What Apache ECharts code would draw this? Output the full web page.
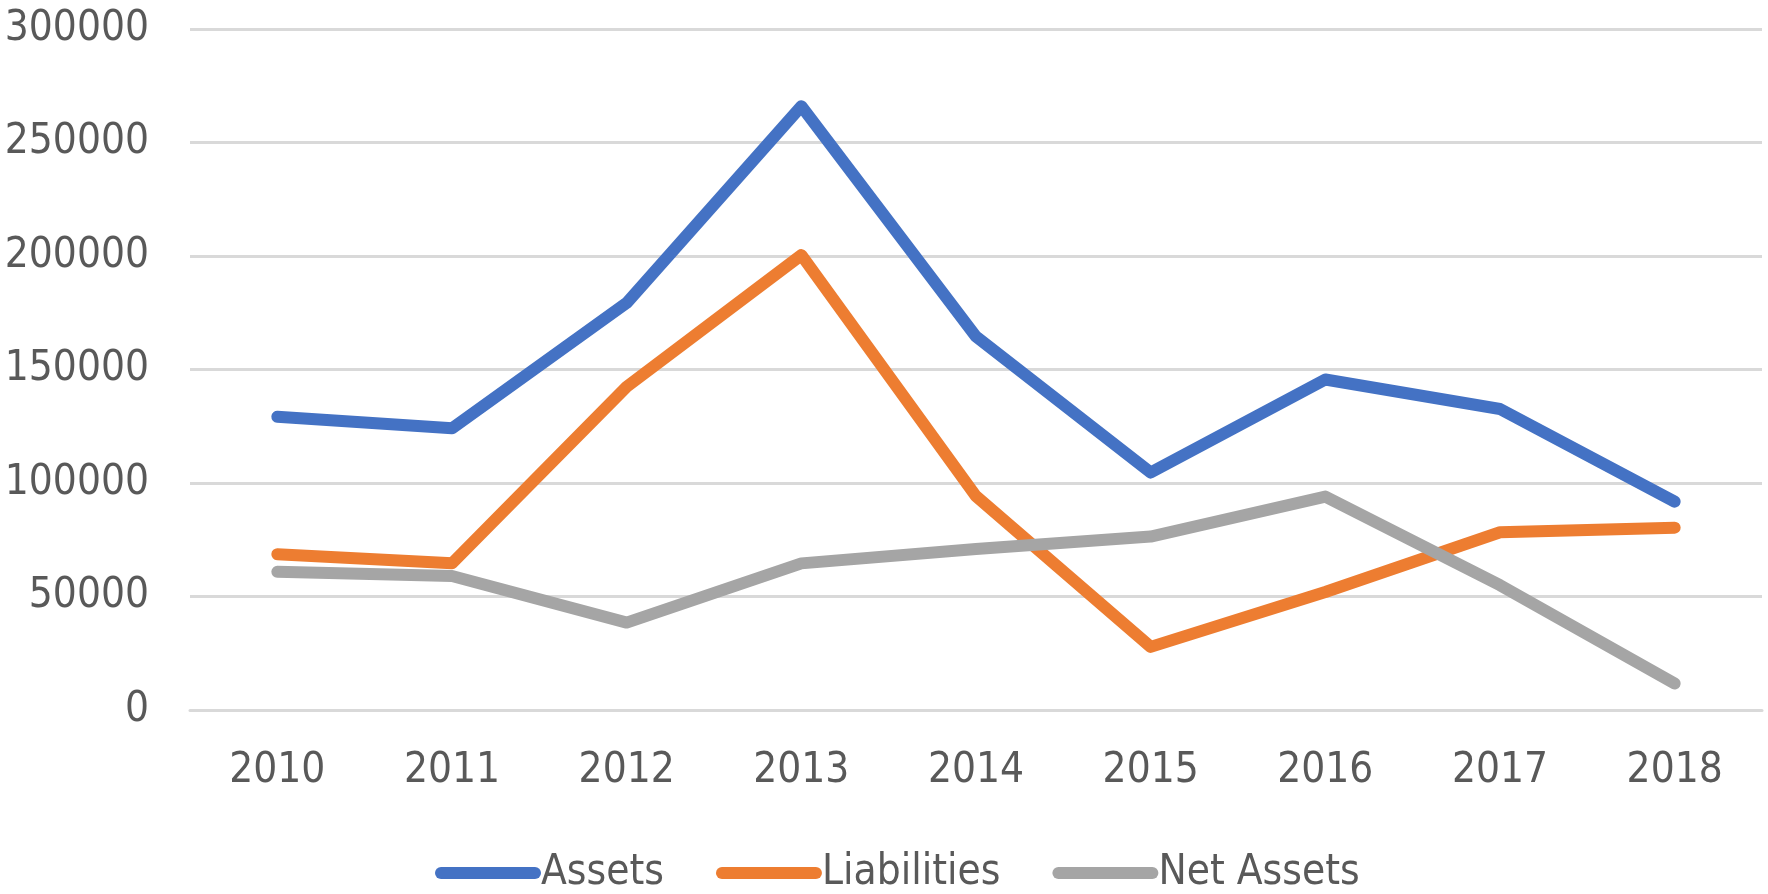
<!DOCTYPE html>
<html>
<head>
<meta charset="utf-8">
<script src="https://cdn.jsdelivr.net/npm/echarts@6/dist/echarts.min.js"></script>
<style>
html,body{margin:0;padding:0;background:#fff;}
#chart{width:1768px;height:894px;}
</style>
</head>
<body>
<div id="chart"></div>
<script>
const years = ['2010','2011','2012','2013','2014','2015','2016','2017','2018'];
const assets = [129200, 124100, 179300, 266000, 164500, 104600, 145600, 132600, 91800];
const liabilities = [68600, 64600, 142400, 200400, 94200, 27800, 52000, 78300, 80300];
const netAssets = [60900, 59000, 38500, 64600, 70900, 76400, 94000, 55000, 11700];
const seriesNames = ['Assets', 'Liabilities', 'Net Assets'];
const colors = ['#4472C4', '#ED7D31', '#A5A5A5'];

const font = "'Liberation Sans Narrow', 'DejaVu Sans Condensed', 'Arial Narrow', sans-serif";
const chart = echarts.init(document.getElementById('chart'));
const mk = (name, data, color) => ({
  name: name, type: 'line', data: data, symbol: 'none',
  lineStyle: {width: 12, color: color, cap: 'round', join: 'round'},
  itemStyle: {color: color}
});
chart.setOption({
  animation: false,
  backgroundColor: '#ffffff',
  color: colors,
  grid: {left: 190, right: 6, top: 29, bottom: 184, containLabel: false, outerBoundsMode: 'none'},
  xAxis: {
    type: 'category', data: years, boundaryGap: true,
    axisLine: {show: true, lineStyle: {color: '#D9D9D9', width: 3}},
    axisTick: {show: false},
    axisLabel: {color: '#595959', fontSize: 42, fontFamily: font, margin: 40}
  },
  yAxis: {
    type: 'value', min: 0, max: 300000, interval: 50000,
    axisLine: {show: false}, axisTick: {show: false},
    splitLine: {lineStyle: {color: '#D9D9D9', width: 3}},
    axisLabel: {color: '#595959', fontSize: 42, fontFamily: font, margin: 41,
      formatter: v => String(v)}
  },
  legend: {
    top: 847, left: 430,
    itemWidth: 106, itemHeight: 12, itemGap: 52,
    icon: 'path://M6,0 L100,0 A6,6 0 0 1 100,12 L6,12 A6,6 0 0 1 6,0 Z',
    textStyle: {color: '#595959', fontSize: 42, fontFamily: font, padding: [0,0,0,-5]},
    data: seriesNames
  },
  series: [
    mk(seriesNames[0], assets, colors[0]),
    mk(seriesNames[1], liabilities, colors[1]),
    mk(seriesNames[2], netAssets, colors[2])
  ]
});
</script>
</body>
</html>
